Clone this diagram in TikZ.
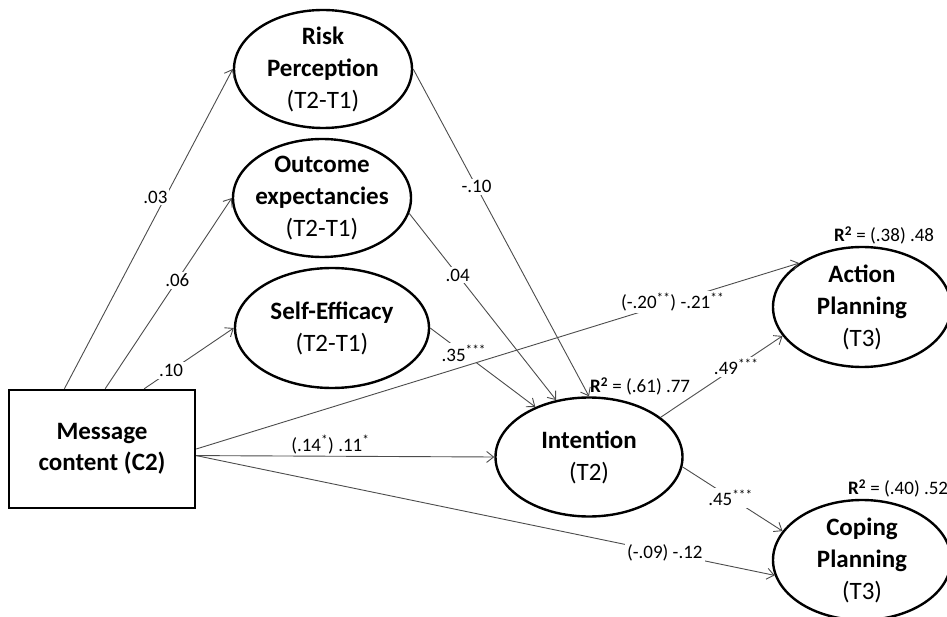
\documentclass[tikz,border=0pt]{standalone}
\usepackage{fontspec}
\setmainfont{Carlito}
\usetikzlibrary{shapes.geometric,arrows.meta}
\newcommand\sig[1]{\textsuperscript{#1}}
\begin{document}
\begin{tikzpicture}[x=1pt,y=-1pt,
  latent/.style={ellipse,draw,line width=2.4pt,minimum width=178pt,minimum height=118pt,
    inner sep=-5pt,align=center,font=\fontsize{25}{32}\selectfont\bfseries},
  obs/.style={draw,line width=2.4pt,minimum width=186pt,minimum height=118pt,
    align=center,font=\fontsize{25}{31}\selectfont\bfseries},
  arr/.style={line width=0.9pt,black!70,-{Straight Barb[length=7pt,width=11pt]}},
  lbl/.style={font=\fontsize{19}{22}\selectfont,fill=white,inner sep=2pt,text=black},
  rsq/.style={font=\fontsize{19}{22}\selectfont,inner sep=1pt}]
  \useasboundingbox (0,0) rectangle (947,617);
  \clip (0,0) rectangle (947,617);
  % variables
  \node[latent] (rp) at (323,69) {Risk\\Perception\\\mdseries(T2-T1)};
  \node[latent] (oe) at (322,198) {Outcome\\expectancies\\\mdseries(T2-T1)};
  \node[latent,minimum width=194pt,minimum height=120pt] (se) at (332,328) {Self-Efficacy\\\mdseries(T2-T1)};
  \node[obs] (msg) at (102,449) {Message\\content (C2)};
  \node[latent,minimum width=187pt,minimum height=119pt] (int) at (589,457) {Intention\\\mdseries(T2)};
  \node[latent,minimum height=120pt] (ap) at (862,307) {Action\\Planning\\\mdseries(T3)};
  \node[latent,minimum height=120pt] (cp) at (862,560) {Coping\\Planning\\\mdseries(T3)};
  % paths
  \draw[arr] (msg.122) -- (rp.west) node[lbl,pos=.6,xshift=-10pt] {.03};
  \draw[arr] (msg.87) -- (oe.west) node[lbl,pos=.57] {.06};
  \draw[arr] (msg.55) -- (se.west) node[lbl,pos=.3] {.10};
  \draw[arr] (rp.east) -- (int.north) node[lbl,pos=.36] {-.10};
  \draw[arr] (oe.-10) -- (int.120) node[lbl,pos=.33] {.04};
  \draw[arr] (se.east) -- (int.137) node[lbl,pos=.32] {.35\sig{***}};
  \draw[arr] (msg.east) -- (ap.145) node[lbl,pos=.79] {(-.20\sig{**}) -.21\sig{**}};
  \draw[arr] (msg.-4) -- (int.west) node[lbl,fill=none,pos=.45,above] {(.14\sig{*}) .11\sig{*}};
  \draw[arr] (msg.-4) -- (cp.190) node[lbl,pos=.81] {(-.09) -.12};
  \draw[arr] (int.29) -- (ap.200) node[lbl,pos=.62] {.49\sig{***}};
  \draw[arr] (int.-6) -- (cp.160) node[lbl,pos=.48] {.45\sig{***}};
  % explained variance
  \node[rsq,anchor=south west] (r2int) at (int.north) {\textbf{R\textsuperscript{2}} = (.61) .77};
  \node[rsq,anchor=south west,xshift=-29pt] (r2ap) at (ap.north) {\textbf{R\textsuperscript{2}} = (.38) .48};
  \node[rsq,anchor=south west,xshift=-15pt] (r2cp) at (cp.north) {\textbf{R\textsuperscript{2}} = (.40) .52};
\end{tikzpicture}
\end{document}
